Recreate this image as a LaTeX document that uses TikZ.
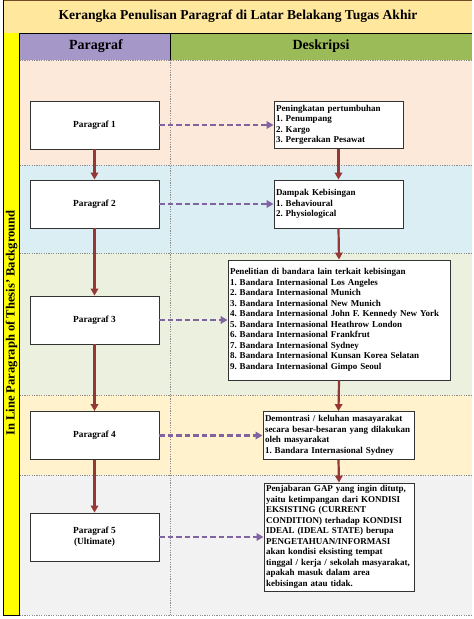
\documentclass[tikz,border=0pt]{standalone}
\usepackage{fontspec}
\setmainfont{Liberation Serif}
\usepackage{tikz}
\usetikzlibrary{calc,arrows.meta}
\frenchspacing

\definecolor{titlegold}{HTML}{FFE79E}
\definecolor{colyellow}{HTML}{FFFF00}
\definecolor{headpurple}{HTML}{A597C8}
\definecolor{headgreen}{HTML}{9BBB59}
\definecolor{rowpeach}{HTML}{FDE9D9}
\definecolor{rowblue}{HTML}{DBEEF4}
\definecolor{rowgreen}{HTML}{EBF1DE}
\definecolor{rowcream}{HTML}{FFF2CC}
\definecolor{rowgray}{HTML}{F2F2F2}
\definecolor{flowred}{HTML}{953735}
\definecolor{flowpurple}{HTML}{8064A2}

\begin{document}
\begin{tikzpicture}[x=1pt,y=-1pt]
 \tikzstyle{flow} = [-{Triangle[length=7pt,width=7.5pt]},draw=flowred,line width=2.2pt];
 \tikzstyle{link} = [-{Triangle[length=7pt,width=7.5pt]},draw=flowpurple,line width=2.2pt,dash pattern=on 5.5pt off 3pt];
 \tikzstyle{grid} = [draw=black!45,line width=0.5pt,dash pattern=on 1.2pt off 1.2pt];
 \tikzstyle{parbox} = [draw=black!80,fill=white,line width=0.9pt,minimum width=129pt,minimum height=48pt,
                       align=center,font=\fontsize{9.3}{10.8}\selectfont\bfseries];
 \tikzstyle{desbox} = [draw=black!80,fill=white,line width=0.9pt,inner sep=2pt,align=left,
                       font=\fontsize{9}{10.5}\selectfont\bfseries];

 \useasboundingbox (0,0) rectangle (474,619);

 %% title band and left column
 \fill[titlegold] (3,0) rectangle (472,33);
 \draw[black!40!brown,line width=1pt] (3,0.5) -- (472,0.5);
 \node[font=\fontsize{13.6}{16}\selectfont\bfseries,name=title] at (238,16) {Kerangka Penulisan Paragraf di Latar Belakang Tugas Akhir};
 \fill[colyellow] (3,33) rectangle (19.5,615);

 %% header
 \fill[headpurple] (19.5,33) rectangle (170,60);
 \fill[headgreen] (170,33) rectangle (472,60);
 \node[font=\fontsize{14}{16}\selectfont\bfseries,name=hpar] at (96,46.5) {Paragraf};
 \node[font=\fontsize{14}{16}\selectfont\bfseries,name=hdes] at (321,46.5) {Deskripsi};

 %% rows
 \fill[rowpeach] (19.5,60) rectangle (472,165);
 \fill[rowblue]  (19.5,165) rectangle (472,253);
 \fill[rowgreen] (19.5,253) rectangle (472,395);
 \fill[rowcream] (19.5,395) rectangle (472,475);
 \fill[rowgray]  (19.5,475) rectangle (472,615);
 \foreach \y in {60,165,253,395,475,615}
   \draw[grid] (19.5,\y) -- (472,\y);
 \draw[grid] (170,60) -- (170,615);

 %% frame lines
 \draw[black,line width=1pt] (3,0) -- (3,615) -- (19.5,615) -- (19.5,33) -- (472,33);
 \draw[black,line width=0.8pt] (170,33) -- (170,60);
 \node[rotate=90,font=\fontsize{12.6}{14}\selectfont\bfseries,name=side] at (11.5,323) {In Line Paragraph of Thesis' Background};

 %% paragraf nodes
 \node[parbox,name=par1] at (94.5,125) {Paragraf 1};
 \node[parbox,name=par2] at (94.5,204) {Paragraf 2};
 \node[parbox,name=par3] at (94.5,320) {Paragraf 3};
 \node[parbox,name=par4] at (94.5,435.5) {Paragraf 4};
 \node[parbox,name=par5] at (94.5,537) {Paragraf 5\\(Ultimate)};

 %% deskripsi nodes
 \node[desbox,text width=125pt,minimum height=47pt,name=des1] at (338.5,125) {Peningkatan pertumbuhan\\
   1. Penumpang\\2. Kargo\\3. Pergerakan Pesawat};
 \node[desbox,text width=125pt,minimum height=48pt,name=des2] at (338.5,204) {Dampak Kebisingan\\
   1. Behavioural\\2. Physiological};
 \node[desbox,text width=218pt,minimum height=120pt,name=des3] at (339,320) {Penelitian di bandara lain terkait kebisingan\\
   1. Bandara Internasional Los Angeles\\
   2. Bandara Internasional Munich\\
   3. Bandara Internasional New Munich\\
   4. Bandara Internasional John F. Kennedy New York\\
   5. Bandara Internasional Heathrow London\\
   6. Bandara Internasional Frankfrut\\
   7. Bandara Internasional Sydney\\
   8. Bandara Internasional Kunsan Korea Selatan\\
   9. Bandara Internasional Gimpo Seoul};
 \node[desbox,text width=147pt,minimum height=48pt,name=des4] at (338.5,435.5) {Demontrasi / keluhan masayarakat\\
   secara besar-besaran yang dilakukan\\oleh masyarakat\\1. Bandara Internasional Sydney};
 \node[desbox,text width=146pt,minimum height=108pt,name=des5] at (339,537) {Penjabaran GAP yang ingin ditutp,\\
   yaitu ketimpangan dari KONDISI\\EKSISTING (CURRENT\\CONDITION) terhadap KONDISI\\
   IDEAL (IDEAL STATE) berupa\\PENGETAHUAN/INFORMASI\\akan kondisi eksisting tempat\\
   tinggal / kerja / sekolah masyarakat,\\apakah masuk dalam area\\kebisingan atau tidak.};

 %% connectors
 \foreach \a/\b in {1/2,2/3,3/4,4/5} {
   \draw[flow] (par\a.south) -- (par\b.north);
   \draw[flow] (des\a.south) -- (des\b.north);
 }
 \foreach \i in {1,...,5}
   \draw[link] (par\i.east) -- (par\i.east -| des\i.west);

\end{tikzpicture}
\end{document}
